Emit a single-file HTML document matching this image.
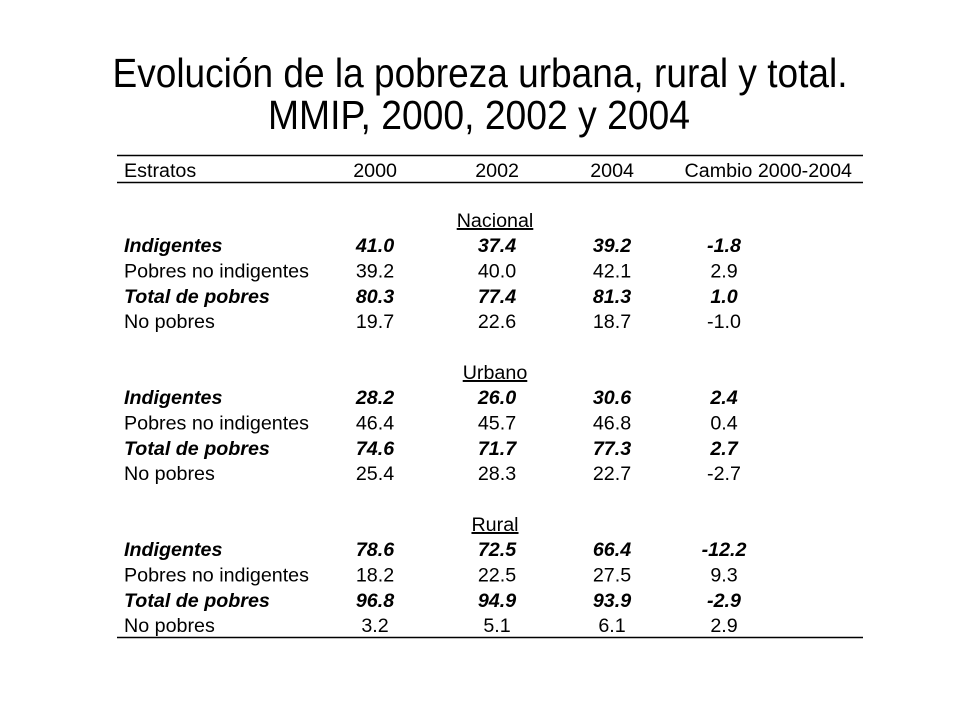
<!DOCTYPE html>
<html><head><meta charset="utf-8"><style>
body{margin:0;background:#fff;}
svg{display:block;font-family:"Liberation Sans",Arial,sans-serif;}
</style></head><body>
<svg id="c" width="960" height="720" viewBox="0 0 960 720">
<text x="480" y="87" font-size="41" text-anchor="middle" textLength="735" lengthAdjust="spacingAndGlyphs">Evolución de la pobreza urbana, rural y total.</text>
<text x="479" y="129" font-size="41" text-anchor="middle" textLength="422" lengthAdjust="spacingAndGlyphs">MMIP, 2000, 2002 y 2004</text>
<line x1="117" y1="155.5" x2="863" y2="155.5" stroke="#000" stroke-width="1.5"/>
<line x1="117" y1="182.5" x2="863" y2="182.5" stroke="#000" stroke-width="1.5"/>
<line x1="117" y1="637.5" x2="863" y2="637.5" stroke="#000" stroke-width="1.5"/>
<g id="t" font-size="19.7"></g>
</svg>
<script>
const headers=["Estratos","2000","2002","2004","Cambio 2000-2004"];
const sections=["Nacional","Urbano","Rural"];
const rowLabels=["Indigentes","Pobres no indigentes","Total de pobres","No pobres"];
const boldRows=[true,false,true,false];
const nacional=[["41.0","37.4","39.2","-1.8"],["39.2","40.0","42.1","2.9"],["80.3","77.4","81.3","1.0"],["19.7","22.6","18.7","-1.0"]];
const urbano=[["28.2","26.0","30.6","2.4"],["46.4","45.7","46.8","0.4"],["74.6","71.7","77.3","2.7"],["25.4","28.3","22.7","-2.7"]];
const rural=[["78.6","72.5","66.4","-12.2"],["18.2","22.5","27.5","9.3"],["96.8","94.9","93.9","-2.9"],["3.2","5.1","6.1","2.9"]];
const sectionData=[nacional,urbano,rural];
const NS="http://www.w3.org/2000/svg";
const g=document.getElementById('t');
const colCenter=[375,497,612,724];
const headRight=[397,519,634,852];
function txt(s,x,y,anchor,opts){
  const t=document.createElementNS(NS,'text');
  t.setAttribute('x',x);t.setAttribute('y',y);
  t.setAttribute('text-anchor',anchor);
  if(opts&&opts.bold){t.setAttribute('font-weight','bold');t.setAttribute('font-style','italic');}
  if(opts&&opts.u){t.setAttribute('text-decoration','underline');}
  t.textContent=s;g.appendChild(t);return t;
}
let el=txt(headers[0],124,177,'start');


for(let i=1;i<headers.length;i++){
  el=txt(headers[i],headRight[i-1],177,'end');
  
  
}
const secTop=[220,372,524];
const rowStep=25.4;
sections.forEach((s,si)=>{
  const c=secTop[si];
  let e=txt(s,495,c+7,'middle',{u:true});
  
  
  rowLabels.forEach((lab,ri)=>{
    const y=c+25+ri*rowStep+7;
    const b=boldRows[ri];
    let l=txt(lab,124,y,'start',{bold:b});
    
    
    sectionData[si][ri].forEach((v,ci)=>{
      let cell=txt(v,colCenter[ci],y,'middle',{bold:b});
      
      
    });
  });
});
</script>
</body></html>
